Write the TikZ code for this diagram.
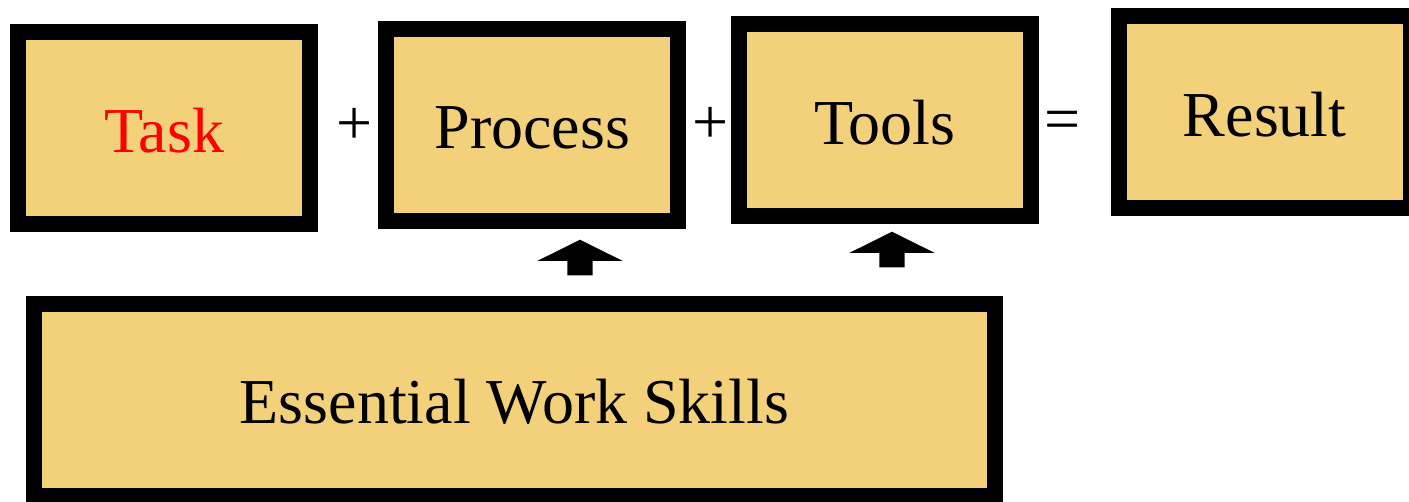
\documentclass[tikz,border=0pt]{standalone}
\usepackage{fontspec}
\setmainfont{Liberation Serif}
\definecolor{boxfill}{HTML}{F3D07A}
\definecolor{taskred}{HTML}{FF0000}
\tikzset{
  blockbox/.style={draw=black, line width=16pt, fill=boxfill, rectangle,
    minimum width=292pt, minimum height=192pt, inner sep=0pt,
    text height=48pt, text depth=0pt, font=\fontsize{64}{70}\selectfont},
  opsign/.style={anchor=base, inner sep=0pt, font=\fontsize{64}{70}\selectfont},
  blockarrow/.style={fill=black, draw=none}
}
\begin{document}
\begin{tikzpicture}[x=1pt, y=-1pt]
\useasboundingbox (0,0) rectangle (1409,502);
\clip (0,0) rectangle (1409,502);
\node[blockbox, text=taskred] (task) at (164.2,128.2) {Task};
\node[blockbox] (process) at (532.2,124.7) {Process};
\node[blockbox] (tools) at (884.7,120.3) {Tools};
\node[blockbox] (result) at (1264.7,112.5) {Result};
\node[blockbox, minimum width=960.4pt] (skills) at (514.5,400) {Essential Work Skills};
\node[opsign] (plusa) at (354.3,145) {+};
\node[opsign] (plusb) at (710.3,144) {+};
\node[opsign] (equals) at (1062.7,141) {=};
% block arrows
\coordinate (arra) at (580,239.7);
\coordinate (arrb) at (892,231.7);
\fill[blockarrow] (arra) -- ++(42.8,21.3) -- ++(-30.1,0) -- ++(0,14.3) -- ++(-25.4,0) -- ++(0,-14.3) -- ++(-30.1,0) -- cycle;
\fill[blockarrow] (arrb) -- ++(42.8,21.3) -- ++(-30.1,0) -- ++(0,14.3) -- ++(-25.4,0) -- ++(0,-14.3) -- ++(-30.1,0) -- cycle;
\end{tikzpicture}
\end{document}
